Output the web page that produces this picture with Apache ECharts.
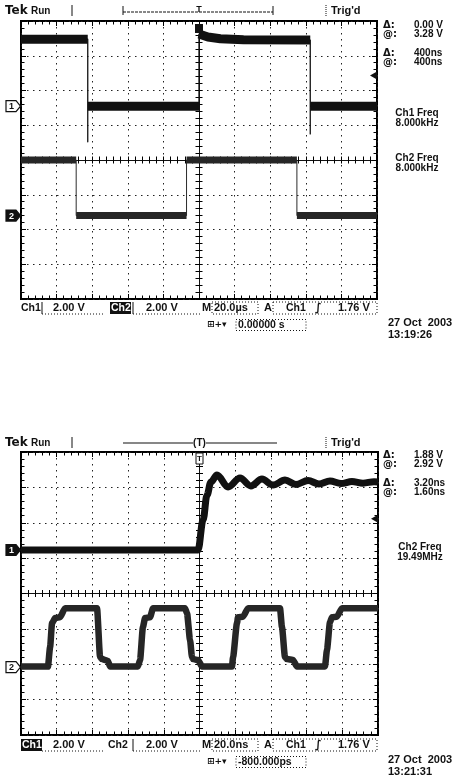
<!DOCTYPE html>
<html>
<head>
<meta charset="utf-8">
<script src="https://cdn.jsdelivr.net/npm/echarts@6/dist/echarts.min.js"></script>
<style>
  html, body { margin: 0; padding: 0; background: #fff; }
  #scope { width: 458px; height: 779px; }
</style>
</head>
<body>
<div id="scope"></div>
<script>
// ---- Screen 1: 20.0 µs/div, both channels 2.00 V/div ----
const topTimeCh1 = [-100, -62.5, -62.5, -62.5, 0, 0, 0.8, 5, 12, 25, 62.5, 62.5, 62.5, 100];
const topVoltCh1 = [3.85, 3.85, -2.05, 0, 0, 4.15, 4.1, 3.98, 3.88, 3.82, 3.8, -1.6, 0, 0];
const topTimeCh2 = [-100, -69, -69, -7, -7, 55, 55, 100];
const topVoltCh2 = [3.2, 3.2, 0, 0, 3.2, 3.2, 0, 0];

// ---- Screen 2: 20.0 ns/div, both channels 2.00 V/div ----
const botTimeCh1 = [-100, -0.8, 2.0, 4.2, 6.4, 9.8, 16, 22.7, 28.8, 35, 41.2, 47.9, 54, 60.8, 66.9, 73.1, 79.3, 85.4, 91.6, 97.8, 100];
const botVoltCh1 = [0, 0, 1.7, 3.1, 3.85, 4.24, 3.56, 4.07, 3.62, 4.01, 3.67, 3.95, 3.70, 3.93, 3.73, 3.9, 3.76, 3.87, 3.78, 3.86, 3.84];
const botTimeCh2 = [-100, -84.9, -83.7, -82.6, -80.9, -78.1, -75.3, -57.4, -55.7, -54.6, -51.3, -50.1,
  -34.5, -33.3, -31.7, -30.5, -27.7, -26.0, -8.1, -7.0, -5.3, -4.2, -3.6, -0.8, 1.4,
  18.2, 18.8, 21.0, 21.6, 24.4, 27.2, 45.1, 46.2, 47.9, 49.0, 52.4, 54.6,
  70.3, 71.4, 73.1, 74.2, 77.0, 79.8, 100];
const botVoltCh2 = [0.03, 0.03, 1.13, 2.49, 2.77, 2.82, 3.33, 3.33, 0.56, 0.45, 0.35, 0.03,
  0.03, 0.4, 2.26, 2.77, 2.82, 3.33, 3.33, 3.05, 1.53, 0.56, 0.45, 0.40, 0.03,
  0.03, 0.56, 2.49, 2.82, 2.85, 3.33, 3.33, 2.26, 0.56, 0.45, 0.40, 0.03,
  0.03, 0.96, 2.54, 2.82, 2.85, 3.33, 3.33];

// Channel ground positions (divisions from screen centre) and vertical scale
const topCh1Pos = 1.55, topCh2Pos = -1.6;
const botCh1Pos = 1.23, botCh2Pos = -2.08;
const voltsPerDiv = 2;
const triggerLevel = 1.76;
const timeRange = [-100, 100], timeStep = 20;
const divRange = [-4, 4];

const INK = '#111';
const FONT = '"Liberation Sans", Arial, sans-serif';

function trace(times, volts, pos) {
  return times.map((t, i) => [t, pos + volts[i] / voltsPerDiv]);
}
// Flat stretches get the wide noise band; vertical edges stay thin
function band(points) {
  const out = [];
  points.forEach((p, i) => {
    out.push(p);
    if (i < points.length - 1 && points[i + 1][0] === p[0]) out.push([p[0], '-']);
  });
  return out;
}

// Four x and four y axes per screen: centre cross (ticks both sides) and frame (ticks inward)
function scopeAxes(g) {
  const tickStyle = { color: '#000', width: 1 };
  const minor = { show: true, splitNumber: 5, length: 3.5, lineStyle: tickStyle };
  const common = {
    gridIndex: g, type: 'value', silent: true,
    axisLabel: { show: false }, splitLine: { show: false }, minorTick: minor
  };
  const grid = { show: true, lineStyle: { color: '#222', width: 1, type: [1.5, 4.5] } };
  const xr = { min: timeRange[0], max: timeRange[1], interval: timeStep };
  const yr = { min: divRange[0], max: divRange[1], interval: 1 };
  const mk = (range, pos, onZero, lineShow, tickLen, split) => Object.assign({}, common, range, {
    position: pos,
    axisLine: { show: lineShow, onZero, lineStyle: { color: '#111', width: 1 } },
    axisTick: { show: true, inside: true, length: tickLen, lineStyle: tickStyle },
    splitLine: split ? grid : { show: false }
  });
  return {
    x: [mk(xr, 'bottom', true, true, 3.5, true), mk(xr, 'top', true, false, 3.5, false),
        mk(xr, 'bottom', false, false, 5, false), mk(xr, 'top', false, false, 5, false)],
    y: [mk(yr, 'left', true, true, 3.5, true), mk(yr, 'right', true, false, 3.5, false),
        mk(yr, 'left', false, false, 5, false), mk(yr, 'right', false, false, 5, false)]
  };
}

const axTop = scopeAxes(0), axBot = scopeAxes(1);

const topCh1 = trace(topTimeCh1, topVoltCh1, topCh1Pos);
const topCh2 = trace(topTimeCh2, topVoltCh2, topCh2Pos);
const botCh1 = trace(botTimeCh1, botVoltCh1, botCh1Pos);
const botCh2 = trace(botTimeCh2, botVoltCh2, botCh2Pos);

function line(data, xi, yi, width, color, extra) {
  return Object.assign({
    type: 'line', xAxisIndex: xi, yAxisIndex: yi, data, showSymbol: false, symbol: 'none',
    silent: true, animation: false, z: 5,
    lineStyle: { color, width, cap: 'butt', join: 'round' }
  }, extra || {});
}

const option = {
  animation: false,
  backgroundColor: '#fff',
  grid: [
    { left: 21, top: 21, width: 356, height: 278, show: true, borderColor: '#000', borderWidth: 2, backgroundColor: 'transparent', containLabel: false },
    { left: 21, top: 452, width: 357, height: 283, show: true, borderColor: '#000', borderWidth: 2, backgroundColor: 'transparent', containLabel: false }
  ],
  xAxis: axTop.x.concat(axBot.x),
  yAxis: axTop.y.concat(axBot.y),
  series: [
    line(topCh2, 0, 0, 1, '#2b2b2b'),
    line(band(topCh2), 0, 0, 7, '#262626'),
    line(topCh1, 0, 0, 1.3, INK),
    line(band(topCh1), 0, 0, 9, INK),
    line(botCh2, 4, 4, 6.5, '#262626', { smooth: 0.2, smoothMonotone: 'x' }),
    line(botCh1, 4, 4, 7, INK, { smooth: 0.35, smoothMonotone: 'x' })
  ]
};

const chart = echarts.init(document.getElementById('scope'), null, { renderer: 'canvas' });
chart.setOption(option);

// ---- on-screen annotations ----
const px = (g, x, y) => chart.convertToPixel({ gridIndex: g }, [x, y]);
const G = [];
function txt(text, x, y, size, opt) {
  opt = opt || {};
  G.push({ type: 'text', z: 20, silent: true, style: {
    text, x, y, fill: opt.fill || INK, font: 'bold ' + size + 'px ' + (opt.family || FONT),
    align: opt.align || 'left', textAlign: opt.align || 'left',
    verticalAlign: 'middle', textVerticalAlign: 'middle' } });
}
function seg(x1, y1, x2, y2, opt) {
  opt = opt || {};
  G.push({ type: 'line', z: 19, silent: true, shape: { x1, y1, x2, y2 },
    style: { stroke: opt.stroke || INK, lineWidth: opt.w || 1, lineDash: opt.dash || null } });
}
function box(x, y, w, h, opt) {
  opt = opt || {};
  G.push({ type: 'rect', z: 19, silent: true, shape: { x, y, width: w, height: h },
    style: { fill: opt.fill || 'none', stroke: opt.stroke || null, lineWidth: opt.w || 1, lineDash: opt.dash || null } });
}
function chanTag(label, y, filled) {
  G.push({ type: 'polygon', z: 20, silent: true,
    shape: { points: [[6, y - 5.5], [16, y - 5.5], [20.5, y], [16, y + 5.5], [6, y + 5.5]] },
    style: { fill: filled ? INK : '#fff', stroke: INK, lineWidth: 1.2 } });
  txt(label, 11.5, y + 0.5, 9, { align: 'center', fill: filled ? '#fff' : INK });
}
function levelArrow(x, y) {
  G.push({ type: 'polygon', z: 20, silent: true,
    shape: { points: [[x, y - 4], [x - 7, y], [x, y + 4]] }, style: { fill: INK } });
}

function header(yy, trigX, solidRuler) {
  txt('Tek', 5, yy, 12, { family: '"DejaVu Sans", sans-serif' });
  txt('Run', 31, yy, 10);
  seg(72, yy - 6, 72, yy + 5);
  if (solidRuler) {
    seg(123, yy, 277, yy, { w: 1.2 });
    G.push({ type: 'text', z: 21, silent: true, style: { text: '(T)', x: trigX, y: yy, fill: INK,
      font: 'bold 10px ' + FONT, align: 'center', textAlign: 'center', verticalAlign: 'middle', textVerticalAlign: 'middle',
      backgroundColor: '#fff' } });
  } else {
    seg(123, yy + 1, 273, yy + 1, { dash: [3, 1] });
    seg(123, yy - 5, 123, yy + 4); seg(273, yy - 5, 273, yy + 4);
    txt('T', trigX, yy - 1, 9, { align: 'center' });
  }
  seg(326, yy - 6, 326, yy + 5, { dash: [1, 1] });
  txt("Trig'd", 331, yy, 11);
}

function statusBar(yy, ch1Inverted, timeText, posText, yDate, clock) {
  const t = yy - 6, h = 12;
  if (ch1Inverted) { box(21, t, 21, h, { fill: INK }); txt('Ch1', 22, yy, 10.5, { fill: '#fff' }); }
  else { txt('Ch1', 21, yy, 10.5); seg(42, t, 42, t + h); }
  seg(42, t + h, 103, t + h, { dash: [1, 2] });
  txt('2.00 V', 53, yy, 11);
  if (!ch1Inverted) { box(110, t, 21, h, { fill: INK }); txt('Ch2', 111, yy, 10.5, { fill: '#fff' }); }
  else { txt('Ch2', 108, yy, 10.5); }
  seg(133, t, 133, t + h);
  seg(133, t + h, 200, t + h, { dash: [1, 2] });
  txt('2.00 V', 146, yy, 11);
  txt('M', 202, yy, 11);
  box(212, t, 46, h, { stroke: INK, dash: [1, 2] });
  txt(timeText, 214, yy, 11);
  txt('A', 264, yy, 11);
  box(273, t, 104, h, { stroke: INK, dash: [1, 2] });
  txt('Ch1', 286, yy, 10.5);
  txt('\u222B', 315, yy, 11, { family: '"DejaVu Sans", sans-serif' });
  txt('1.76 V', 338, yy, 11);
  // horizontal position readout
  const y2 = yy + 17;
  txt('\u229E+\u25BE', 207, y2, 9, { family: '"DejaVu Sans", sans-serif' });
  box(236, y2 - 5.5, 70, 11, { stroke: INK, dash: [1, 2] });
  txt(posText, 238, y2, 10.5);
  txt('27 Oct  2003', 388, yDate, 11);
  txt(clock, 388, yDate + 11.5, 11);
}

function readouts(y0, a, b, c, d) {
  [[y0, '\u0394:', a], [y0 + 9, '@:', b], [y0 + 28, '\u0394:', c], [y0 + 37, '@:', d]].forEach(r => {
    txt(r[1], 383, r[0], 10, { family: '"DejaVu Sans", sans-serif' });
    txt(r[2], 414, r[0], 10);
  });
}

// Screen 1
const c0 = px(0, 0, 0);
header(11, c0[0], false);
box(c0[0] - 4, 24, 8, 9, { fill: INK });
readouts(25, '0.00 V', '3.28 V', '400ns', '400ns');
txt('Ch1 Freq', 417, 113, 10, { align: 'center' });
txt('8.000kHz', 417, 123, 10, { align: 'center' });
txt('Ch2 Freq', 417, 158, 10, { align: 'center' });
txt('8.000kHz', 417, 168, 10, { align: 'center' });
chanTag('1', px(0, 0, topCh1Pos)[1], false);
chanTag('2', px(0, 0, topCh2Pos)[1], true);
levelArrow(377, px(0, 0, topCh1Pos + triggerLevel / voltsPerDiv)[1]);
statusBar(308, false, '20.0\u00B5s', '0.00000 s', 323, '13:19:26');

// Screen 2
const c1 = px(1, 0, 0);
header(443, c1[0], true);
box(c1[0] - 3.5, 453, 7, 11, { fill: '#fff', stroke: INK });
txt('T', c1[0], 458.5, 8, { align: 'center' });
readouts(455, '1.88 V', '2.92 V', '3.20ns', '1.60ns');
txt('Ch2 Freq', 420, 547, 10, { align: 'center' });
txt('19.49MHz', 420, 557, 10, { align: 'center' });
chanTag('1', px(1, 0, botCh1Pos)[1], true);
chanTag('2', px(1, 0, botCh2Pos)[1], false);
levelArrow(378, px(1, 0, botCh1Pos + triggerLevel / voltsPerDiv)[1]);
statusBar(745, true, '20.0ns', '-800.000ps', 760, '13:21:31');

chart.setOption({ graphic: { elements: G } });
</script>
</body>
</html>
